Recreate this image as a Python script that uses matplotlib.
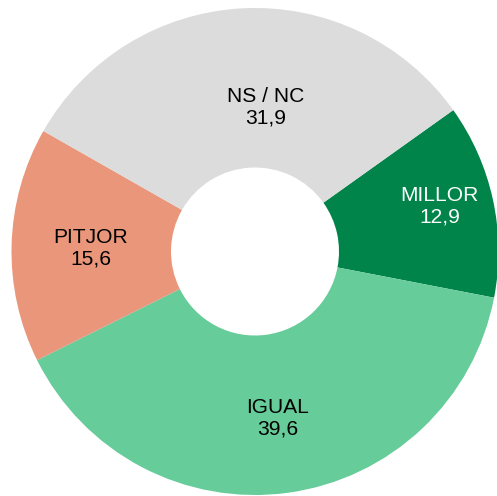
import numpy as np
import matplotlib
matplotlib.use("Agg")
import matplotlib.pyplot as plt

labels = ["MILLOR", "IGUAL", "PITJOR", "NS / NC"]
values = [12.9, 39.6, 15.6, 31.9]
colors = ["#00844a", "#66cc99", "#e9967a", "#dcdcdc"]
text_colors = ["white", "black", "black", "black"]

W, H = 497, 496
fig = plt.figure(figsize=(W / 100, H / 100), dpi=100)
ax = fig.add_axes([0, 0, 1, 1])

cx, cy = 255, H - 251.5
R_out, R_in = 243.5, 84
start = 35.5

wedges, _ = ax.pie(values, colors=colors, startangle=start, counterclock=False,
                   radius=R_out, center=(cx, cy),
                   wedgeprops=dict(width=R_out - R_in, linewidth=0))
ax.set_xlim(0, W)
ax.set_ylim(0, H)
ax.set_aspect("auto")
ax.axis("off")

label_r = [190, 168, 164, 144.5]
label_dang = [1.5, 0, 0.4, -7.1]
for w, lab, v, tc, r, da in zip(wedges, labels, values, text_colors, label_r, label_dang):
    mid = np.deg2rad((w.theta1 + w.theta2) / 2 + da)
    x = cx + r * np.cos(mid)
    y = cy + r * np.sin(mid)
    ax.text(x, y, f"{lab}\n{str(v).replace('.', ',')}", ha="center", va="center",
            color=tc, fontsize=15.1, family="Liberation Sans", linespacing=1.18)

fig.savefig("out.png", dpi=100)
